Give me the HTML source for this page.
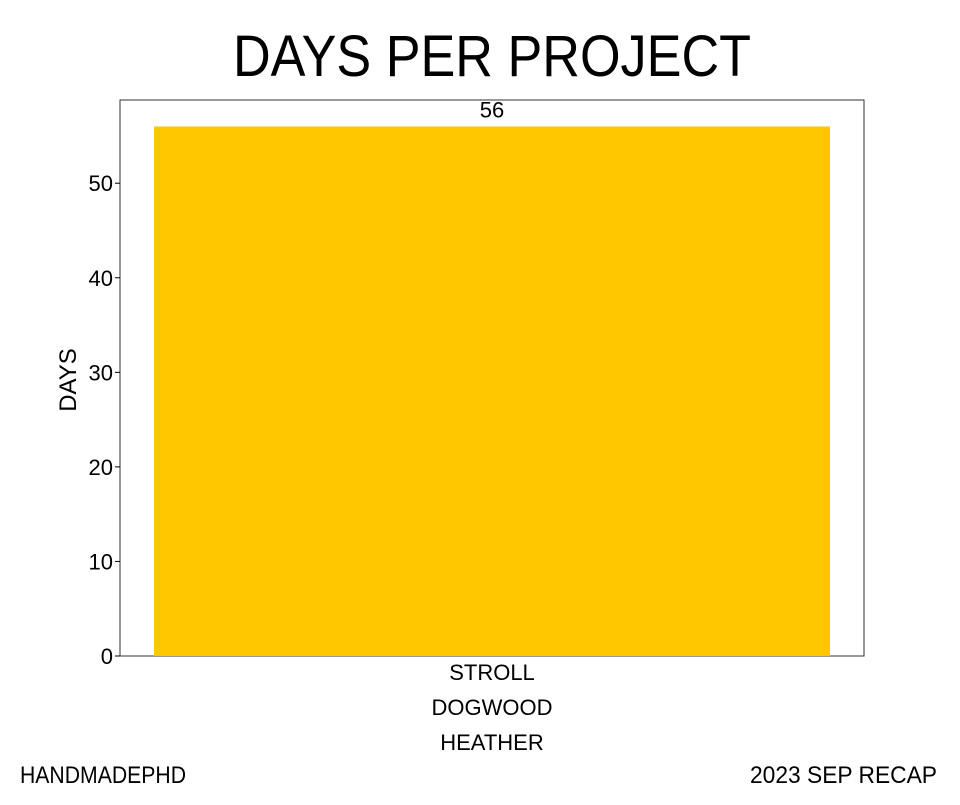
<!DOCTYPE html>
<html><head><meta charset="utf-8"><style>
body{margin:0;background:#fff;width:960px;height:800px;overflow:hidden;font-family:"Liberation Sans",sans-serif}
svg text{font-family:"Liberation Sans",sans-serif;fill:#000}
</style></head><body>
<svg width="960" height="800">
<text x="492" y="76" text-anchor="middle" font-size="58" textLength="518" lengthAdjust="spacingAndGlyphs">DAYS PER PROJECT</text>
<rect x="120" y="100" width="744" height="556" fill="none" stroke="#333" stroke-width="1"/>
<g id="yaxis"></g>
<g id="bars"></g>
<text transform="translate(76,380) rotate(-90)" text-anchor="middle" font-size="24">DAYS</text>
<text x="20" y="783" font-size="24" textLength="166" lengthAdjust="spacingAndGlyphs">HANDMADEPHD</text>
<text x="937" y="783" text-anchor="end" font-size="24" textLength="187" lengthAdjust="spacingAndGlyphs">2023 SEP RECAP</text>
</svg>
<script>
const categories=["STROLL\nDOGWOOD\nHEATHER"];
const values=[56];
const yTicks=[0,10,20,30,40,50];
const ns="http://www.w3.org/2000/svg";
const y0=656,yTop=100,yMax=58.8;
function y(v){return y0-(v/yMax)*(y0-yTop);}
const plotL=120,plotR=864,pad=34;
const band=(plotR-plotL-2*pad)/categories.length;
function x(i){return plotL+pad+i*band;}
const ya=document.getElementById('yaxis');
yTicks.forEach(t=>{
 const l=document.createElementNS(ns,'line');
 l.setAttribute('x1',115);l.setAttribute('x2',120);l.setAttribute('y1',y(t));l.setAttribute('y2',y(t));l.setAttribute('stroke','#000');
 
 
 ya.appendChild(l);
 const tx=document.createElementNS(ns,'text');
 tx.setAttribute('x',113);tx.setAttribute('y',y(t)+8);tx.setAttribute('text-anchor','end');tx.setAttribute('font-size','22');
 tx.textContent=t;
 
 
 ya.appendChild(tx);
});
const bg=document.getElementById('bars');
categories.forEach((c,i)=>{
 const r=document.createElementNS(ns,'rect');
 r.setAttribute('x',x(i));r.setAttribute('width',band);r.setAttribute('y',y(values[i]));r.setAttribute('height',y0-y(values[i]));r.setAttribute('fill','#FFC700');
 
 
 bg.appendChild(r);
 const v=document.createElementNS(ns,'text');
 v.setAttribute('x',x(i)+band/2);v.setAttribute('y',y(values[i])-9);v.setAttribute('text-anchor','middle');v.setAttribute('font-size','22');
 v.textContent=values[i];
 
 
 bg.appendChild(v);
 c.split('\n').forEach((ln,j)=>{
  const t=document.createElementNS(ns,'text');
  t.setAttribute('x',x(i)+band/2);t.setAttribute('y',680+j*35);t.setAttribute('text-anchor','middle');t.setAttribute('font-size','22');
  t.textContent=ln;
  
  
  bg.appendChild(t);
 });
});
</script>
</body></html>
